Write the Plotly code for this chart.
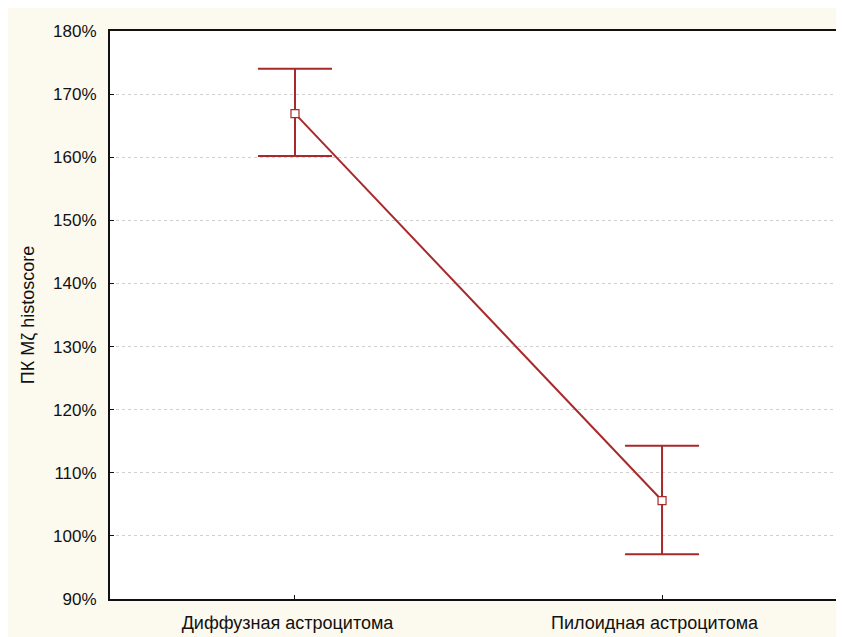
import plotly.graph_objects as go

categories = ["Диффузная астроцитома", "Пилоидная астроцитома"]
means = [166.9, 105.6]
upper = [174.0, 114.3]
lower = [160.2, 97.1]
y_ticks = [90, 100, 110, 120, 130, 140, 150, 160, 170, 180]
y_ticktext = [f"{v}%" for v in y_ticks]

err_plus = [u - m for u, m in zip(upper, means)]
err_minus = [m - l for m, l in zip(means, lower)]

red = "#a8292b"
fig = go.Figure()
fig.add_trace(go.Scatter(
    x=categories, y=means, mode="lines+markers",
    line=dict(color=red, width=2),
    marker=dict(symbol="square", size=8, color="white", line=dict(color=red, width=1.2)),
    error_y=dict(type="data", symmetric=False, array=err_plus, arrayminus=err_minus,
                 color=red, thickness=2, width=37),
    showlegend=False,
))

# page body has an 8px offset
W, H = 836, 629
L, R, T, B = 102, 1, 23, 38
pw, ph = W - L - R, H - T - B
fig.add_shape(type="line", xref="paper", yref="paper", x0=(pw + 0.5) / pw, x1=(pw + 0.5) / pw,
              y0=0, y1=1, line=dict(color="#c8c8c8", width=1))

font = dict(family="Liberation Sans, Arial, sans-serif", size=17, color="#111111")
xfont = dict(family="Liberation Sans, Arial, sans-serif", size=18, color="#111111")
fig.update_layout(
    width=W, height=H,
    margin=dict(l=L, r=R, t=T, b=B, pad=0),
    paper_bgcolor="#fcf9ee", plot_bgcolor="white",
    font=font,
    xaxis=dict(range=[-0.504, 1.493], tickvals=categories,
               ticktext=[c + "\u00a0\u00a0\u00a0" for c in categories],
               showline=True, linecolor="#111111", linewidth=2, mirror=True,
               ticks="inside", ticklen=4, tickcolor="#111111", showgrid=False, zeroline=False,
               tickfont=xfont, ticklabelstandoff=6),
    yaxis=dict(range=[90, 180], tickvals=y_ticks, ticktext=y_ticktext,
               showline=True, linecolor="#111111", linewidth=2,
               ticks="inside", ticklen=4, tickcolor="#111111",
               showgrid=True, gridcolor="#cfcfcf", griddash="dot", gridwidth=1, zeroline=False,
               tickfont=font, ticklabelstandoff=8, automargin=False,
               title=dict(text="ПК Mζ histoscore", font=xfont, standoff=14)),
)
fig.write_html("out.html")
